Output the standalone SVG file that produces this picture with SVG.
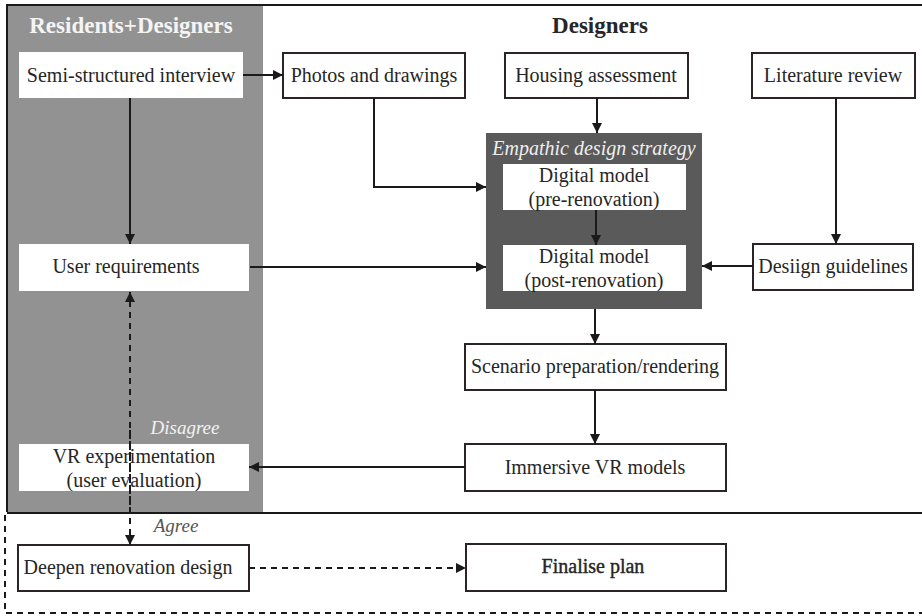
<svg xmlns="http://www.w3.org/2000/svg" width="922" height="616" viewBox="0 0 922 616">
<defs>
<marker id="ah" viewBox="0 0 10 10" refX="10" refY="5" markerWidth="14" markerHeight="10" markerUnits="userSpaceOnUse" orient="auto"><path d="M0,0 L10,5 L0,10 Z" fill="#1a1a1a"/></marker>
<style>
text{font-family:"Liberation Serif","Times New Roman",serif;font-size:20px;fill:#262626;text-anchor:middle}
.box{fill:#fff;stroke:#2b2424;stroke-width:2}
.wbox{fill:#fff;stroke:none}
.ln{fill:none;stroke:#1a1a1a;stroke-width:2}
.dash{fill:none;stroke:#1a1a1a;stroke-width:2;stroke-dasharray:6 5}
.title{font-weight:bold;font-size:23px}
.it{font-style:italic}
</style>
</defs>
<rect x="0" y="0" width="922" height="616" fill="#fff"/>
<g id="frame">
<rect x="7" y="5" width="256" height="507" fill="#929292"/>
<path d="M7,512 V5 H922" class="ln" stroke="#2b2424"/>
<path d="M7,513 H922" class="ln"/>
<path d="M5,515 V613 H922" class="dash"/>
<text class="title" x="131" y="33" style="fill:#f4f4f4">Residents+Designers</text>
<text class="title" x="600" y="33">Designers</text>
</g>
<g id="n-interview"><rect class="wbox" x="19" y="52" width="224" height="46"/><text x="131" y="82">Semi-structured interview</text></g>
<g id="n-photos"><rect class="box" x="283" y="53" width="182" height="45"/><text x="374" y="82">Photos and drawings</text></g>
<g id="n-housing"><rect class="box" x="505" y="53" width="183" height="45"/><text x="596" y="82">Housing assessment</text></g>
<g id="n-literature"><rect class="box" x="752" y="53" width="163" height="45"/><text x="833" y="82">Literature review</text></g>
<g id="n-empathic">
<rect x="486" y="133" width="216" height="176" fill="#5a5a5a"/>
<text class="it" x="594" y="155" style="fill:#eeeeee">Empathic design strategy</text>
</g>
<g id="n-pre"><rect class="wbox" x="503" y="164" width="183" height="46"/><text x="594" y="182">Digital model</text><text x="594" y="206">(pre-renovation)</text></g>
<g id="n-post"><rect class="wbox" x="503" y="245" width="183" height="46"/><text x="594" y="263">Digital model</text><text x="594" y="287">(post-renovation)</text></g>
<g id="n-userreq"><rect class="wbox" x="19" y="244" width="230" height="47"/><text x="126" y="273">User requirements</text></g>
<g id="n-guidelines"><rect class="box" x="753" y="244" width="160" height="46"/><text x="833" y="273">Desiign guidelines</text></g>
<g id="n-scenario"><rect class="box" x="465" y="344" width="261" height="46"/><text x="595" y="373">Scenario preparation/rendering</text></g>
<g id="n-immersive"><rect class="box" x="465" y="444" width="261" height="47"/><text x="595" y="474">Immersive VR models</text></g>
<g id="n-vr"><rect class="wbox" x="19" y="444" width="230" height="47"/><text x="134" y="463">VR experimentation</text><text x="134" y="487">(user evaluation)</text></g>
<g id="n-deepen"><rect class="box" x="18" y="545" width="231" height="46"/><text x="128" y="574">Deepen renovation design</text></g>
<g id="n-finalise"><rect class="box" x="466" y="544" width="260" height="47"/><text x="593" y="573" style="stroke:#262626;stroke-width:0.4">Finalise plan</text></g>
<g id="connectors">
<path class="ln" d="M243,75 H283" marker-end="url(#ah)"/>
<path class="ln" d="M130,98 V244" marker-end="url(#ah)"/>
<path class="ln" d="M374,98 V187 H486" marker-end="url(#ah)"/>
<path class="ln" d="M597,98 V133" marker-end="url(#ah)"/>
<path class="ln" d="M596,210 V245" marker-end="url(#ah)"/>
<path class="ln" d="M250,267 H486" marker-end="url(#ah)"/>
<path class="ln" d="M836,98 V244" marker-end="url(#ah)"/>
<path class="ln" d="M753,266 H702" marker-end="url(#ah)"/>
<path class="ln" d="M595,309 V344" marker-end="url(#ah)"/>
<path class="ln" d="M595,390 V444" marker-end="url(#ah)"/>
<path class="ln" d="M465,467 H249" marker-end="url(#ah)"/>
<path class="dash" d="M130,505 V292" marker-end="url(#ah)"/>
<path class="dash" d="M130,430 V545" marker-end="url(#ah)"/>
<path class="dash" d="M249,568 H466" marker-end="url(#ah)"/>
<text class="it" x="185" y="434" style="fill:#f2f2f2;font-size:19px">Disagree</text>
<text class="it" x="176" y="532" style="fill:#555;font-size:19px">Agree</text>
</g>
</svg>
